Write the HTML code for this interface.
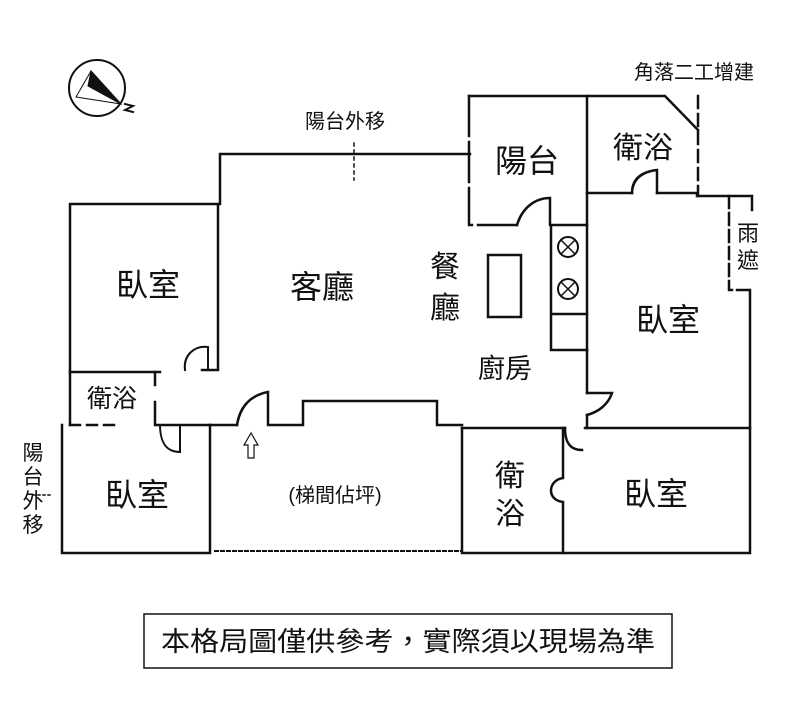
<!DOCTYPE html>
<html><head><meta charset="utf-8"><style>
html,body{margin:0;padding:0;background:#fff;width:807px;height:706px;overflow:hidden}
svg text{font-family:"Liberation Sans","Noto Sans CJK TC",sans-serif;fill:#111}
</style></head><body>
<svg width="807" height="706" viewBox="0 0 807 706" xmlns="http://www.w3.org/2000/svg">
<g fill="none" stroke="#111" stroke-width="2.5" stroke-linecap="square">
<circle cx="97" cy="88" r="28" stroke-width="2"/>
<polygon points="91,71 121,104 76,97" fill="#fff" stroke-width="1"/>
<polygon points="91,71 121,104 88,86" fill="#111" stroke-width="1"/>
<path d="M125,104 l8,2 l-8,4 l8,2" stroke-width="2"/>
<path d="M220,204 V154 H470"/>
<path d="M354,143 V180" stroke-width="1.5" stroke-dasharray="3,4"/>
<path d="M70,425 V204 H218 V370 H202"/>
<path d="M70,372 H160"/>
<path d="M185,370 C183,355 195,345 208,347 V370" stroke-width="2"/>
<path d="M155,372 V385 M155,402 V425 H210"/>
<path d="M70,425 H120" stroke-dasharray="10,7"/>
<path d="M160,425 C160,445 168,452 180,452 V425" stroke-width="2"/>
<path d="M62,425 V553 H210 V425"/>
<path d="M33,495 H52" stroke-width="1.5" stroke-dasharray="2,3"/>
<path d="M210,425 H237"/>
<path d="M237,425 C240,405 252,395 268,392 V425 H303 V401 H437 V425 H462"/>
<path d="M215,551 H462" stroke-width="2" stroke-dasharray="3,3"/>
<path d="M462,428 V553 H750 V290"/>
<path d="M462,428 H565 M585,428 H750"/>
<path d="M565,428 C565,445 572,450 582,450"/>
<path d="M563,428 V478 C548,480 546,500 563,502 V553"/>
<path d="M469,96 V225 H517" stroke-dasharray="40,6"/>
<path d="M469,96 H665 L698,130"/>
<path d="M698,96 V196" stroke-dasharray="12,6"/>
<path d="M517,225 C522,208 535,198 550,198 V225"/>
<path d="M587,96 V350"/>
<path d="M551,225 V350 H587 M551,225 H587 M551,314 H587"/>
<circle cx="568" cy="247" r="10" stroke-width="2"/>
<circle cx="568" cy="289" r="10" stroke-width="2"/>
<path d="M561,240 l14,14 M575,240 l-14,14 M561,282 l14,14 M575,282 l-14,14" stroke-width="1.5"/>
<rect x="488" y="255" width="33" height="62"/>
<path d="M587,193 H632 M657,193 H697 V196 H752 V210"/>
<path d="M632,193 C632,180 640,172 657,170 V193"/>
<path d="M729,196 V290 H750" stroke-dasharray="12,5"/>
<path d="M587,350 V393 M587,415 V428"/>
<path d="M587,393 H612 C608,405 598,412 587,415"/>
<path d="M251,433 L244,445 H248 V458 H254 V445 H258 Z" stroke-width="1.2"/>
<rect x="144" y="614" width="528" height="54" stroke-width="1.5"/>
</g>
<text x="345" y="128" font-size="20" text-anchor="middle">陽台外移</text>
<text x="694" y="79" font-size="20" text-anchor="middle">角落二工增建</text>
<text x="148" y="296" font-size="32" text-anchor="middle">臥室</text>
<text x="322" y="298" font-size="32" text-anchor="middle">客廳</text>
<text x="445" y="277" font-size="30" text-anchor="middle">餐</text>
<text x="445" y="318" font-size="30" text-anchor="middle">廳</text>
<text x="527" y="172" font-size="32" text-anchor="middle">陽台</text>
<text x="643" y="158" font-size="30" text-anchor="middle">衛浴</text>
<text x="748" y="241" font-size="22" text-anchor="middle">雨</text>
<text x="748" y="268" font-size="22" text-anchor="middle">遮</text>
<text x="668" y="331" font-size="32" text-anchor="middle">臥室</text>
<text x="505" y="378" font-size="27" text-anchor="middle">廚房</text>
<text x="112" y="407" font-size="25" text-anchor="middle">衛浴</text>
<text x="137" y="506" font-size="32" text-anchor="middle">臥室</text>
<text x="335" y="502" font-size="20" text-anchor="middle">(梯間佔坪)</text>
<text x="510" y="486" font-size="30" text-anchor="middle">衛</text>
<text x="510" y="524" font-size="30" text-anchor="middle">浴</text>
<text x="656" y="505" font-size="32" text-anchor="middle">臥室</text>
<text x="33" y="460" font-size="21" text-anchor="middle">陽</text>
<text x="33" y="484" font-size="21" text-anchor="middle">台</text>
<text x="33" y="508" font-size="21" text-anchor="middle">外</text>
<text x="33" y="532" font-size="21" text-anchor="middle">移</text>
<text x="408" y="651" font-size="27" text-anchor="middle" textLength="494" lengthAdjust="spacingAndGlyphs">本格局圖僅供參考，實際須以現場為準</text>
</svg>
</body></html>
